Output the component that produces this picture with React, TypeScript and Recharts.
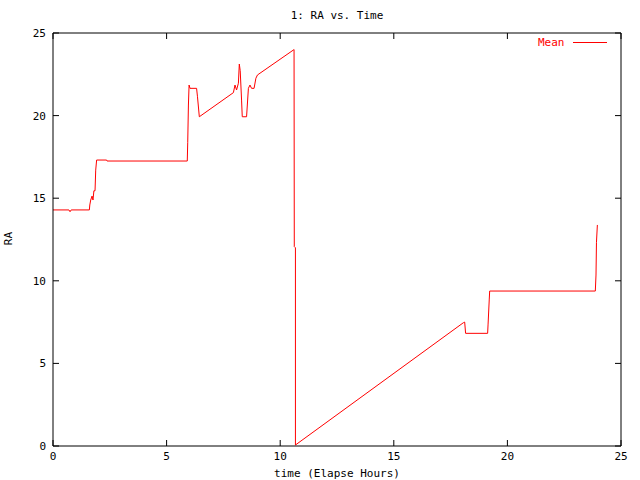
import { LineChart, Line, XAxis, YAxis, Legend } from "recharts";

// elapsed hours and mean RA
const hours = [
  0, 0.7, 0.75, 0.8, 1.6, 1.62, 1.66, 1.72, 1.76, 1.8, 1.85, 1.88, 1.92, 2.36,
  2.38, 5.91, 5.93, 5.96, 5.99, 6.03, 6.32, 6.36, 6.44, 7.94, 8.01, 8.08, 8.16,
  8.2, 8.24, 8.3, 8.33, 8.52, 8.6, 8.67, 8.74, 8.85, 8.93, 9.0, 10.58, 10.61,
  10.62, 10.67, 10.67, 18.06, 18.12, 18.16, 19.13, 19.15, 19.2, 19.22, 23.87,
  23.9, 23.92, 23.96,
];
const ra = [
  14.29, 14.29, 14.18, 14.29, 14.29, 14.59, 14.89, 15.13, 14.89, 15.45, 15.45,
  16.7, 17.31, 17.31, 17.25, 17.25, 18.36, 20.64, 21.85, 21.65, 21.65, 21.14,
  19.93, 21.39, 21.85, 21.55, 21.96, 23.12, 22.72, 20.94, 19.93, 19.93, 21.65,
  21.85, 21.65, 21.65, 22.26, 22.46, 23.97, 24.0, 12.07, 12.0, 0.06, 7.46, 7.5,
  6.82, 6.82, 7.38, 8.84, 9.38, 9.38, 10.35, 12.33, 13.38,
];
const xTicks = [0, 5, 10, 15, 20, 25];
const yTicks = [0, 5, 10, 15, 20, 25];

const data = hours.map((t, i) => ({ t, mean: ra[i] }));

const mono = "'DejaVu Sans Mono', monospace";
const tickFont = { fontFamily: mono, fontSize: 11, fill: "#000" };

const renderLegend = () => (
  <div style={{ display: "flex", alignItems: "center", fontFamily: mono, fontSize: 11, color: "#f00" }}>
    <span>Mean</span>
    <span style={{ display: "inline-block", width: 34, height: 1, background: "#f00", marginLeft: 8 }} />
  </div>
);

export default function App() {
  return (
    <div style={{ position: "absolute", left: 0, top: 0, width: 640, height: 480, background: "#fff" }}>
      <div
        style={{
          position: "absolute",
          top: 9,
          left: 53,
          width: 568,
          textAlign: "center",
          fontFamily: mono,
          fontSize: 11,
        }}
      >
        1: RA vs. Time
      </div>
      <div
        style={{
          position: "absolute",
          left: 2,
          top: 232,
          fontFamily: mono,
          fontSize: 11,
          transform: "rotate(-90deg)",
        }}
      >
        RA
      </div>
      <LineChart width={640} height={480} data={data} margin={{ top: 32, right: 18, bottom: 0, left: 0 }}>
        <XAxis
          dataKey="t"
          type="number"
          domain={[0, 25]}
          ticks={xTicks}
          tickSize={-6}
          tickMargin={12}
          height={34}
          stroke="#000"
          tick={tickFont}
          label={{ value: "time (Elapse Hours)", position: "insideBottom", offset: 3, style: tickFont }}
        />
        <XAxis
          xAxisId="top"
          dataKey="t"
          orientation="top"
          type="number"
          domain={[0, 25]}
          ticks={xTicks}
          tickSize={-6}
          height={1}
          stroke="#000"
          tick={() => <g />}
        />
        <YAxis
          type="number"
          domain={[0, 25]}
          ticks={yTicks}
          tickSize={-6}
          tickMargin={13}
          width={53}
          stroke="#000"
          tick={tickFont}
        />
        <YAxis
          yAxisId="right"
          orientation="right"
          type="number"
          domain={[0, 25]}
          ticks={yTicks}
          tickSize={-6}
          width={1}
          stroke="#000"
          tick={() => <g />}
        />
        <Legend
          verticalAlign="middle"
          layout="horizontal"
          content={renderLegend}
          wrapperStyle={{ top: 36, left: 538, width: 80 }}
        />
        {/* invisible copy so the mirrored border axes get drawn */}
        <Line
          xAxisId="top"
          yAxisId="right"
          type="linear"
          dataKey="mean"
          stroke="none"
          dot={false}
          legendType="none"
          isAnimationActive={false}
        />
        <Line
          type="linear"
          dataKey="mean"
          stroke="#f00"
          strokeWidth={1}
          dot={false}
          isAnimationActive={false}
        />
      </LineChart>
    </div>
  );
}
